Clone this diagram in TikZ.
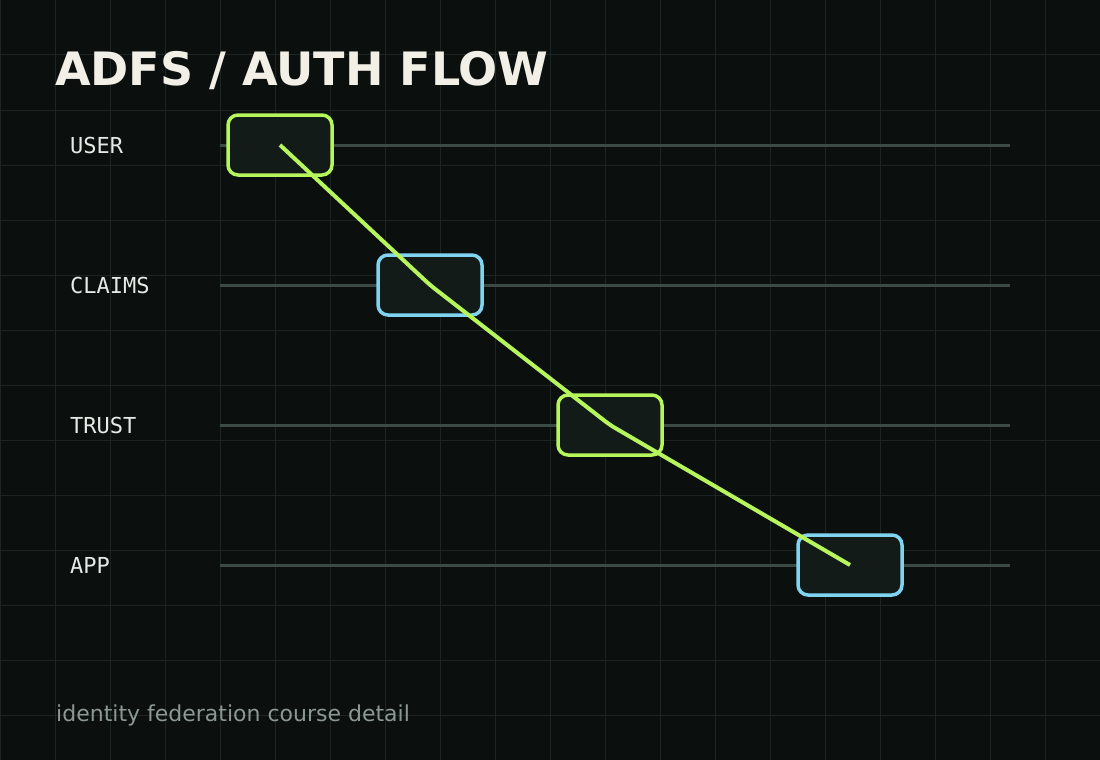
\documentclass[tikz,border=0pt]{standalone}
\usepackage{fontspec}
\setmainfont{DejaVu Sans}
\setmonofont{DejaVu Sans Mono}
\definecolor{bgdark}{HTML}{0B0F0E}
\definecolor{gridline}{HTML}{1C2523}
\definecolor{lanegrey}{HTML}{3B4A45}
\definecolor{boxfill}{HTML}{131B19}
\definecolor{flowgreen}{HTML}{B6F55C}
\definecolor{flowblue}{HTML}{80D4F2}
\definecolor{titlewhite}{HTML}{F2EFE6}
\definecolor{labelwhite}{HTML}{E6EAE6}
\definecolor{subgrey}{HTML}{8C9893}
\begin{document}
\begin{tikzpicture}[x=1pt,y=-1pt,
        lane/.style={line width=3pt, color=lanegrey},
        flowbox/.style={draw, line width=3.5pt, rounded corners=10pt, fill=boxfill,
            minimum width=104pt, minimum height=60pt, inner sep=0pt},
        lanelabel/.style={anchor=west, inner sep=0pt, text=labelwhite,
            font=\ttfamily\fontsize{22}{26}\selectfont}]
        % Background and grid
        \useasboundingbox (0,0) rectangle (1100,760);
        \fill [bgdark] (0,0) rectangle (1100,760);
        \foreach \gx in {0,55,...,1100}
            \draw [line width=1pt, gridline] (\gx,0) -- (\gx,760);
        \foreach \gy in {0,55,...,715}
            \draw [line width=1pt, gridline] (0,\gy) -- (1100,\gy);

        % Title
        \node (title) [anchor=base west, inner sep=0pt, text=titlewhite,
            font=\bfseries\fontsize{46}{54}\selectfont] at (55,85) {ADFS / AUTH FLOW};

        % Lanes with their labels
        \foreach \name/\txt/\ly in {user/USER/145, claims/CLAIMS/285, trust/TRUST/425, app/APP/565} {
            \node (lbl-\name) [lanelabel] at (70,\ly) {\txt};
            \coordinate (lanestart-\name) at (220,\ly);
            \coordinate (laneend-\name) at (1010,\ly);
            \draw [lane] (lanestart-\name) -- (laneend-\name);
        }

        % Steps of the flow
        \node (user) [flowbox, draw=flowgreen] at (280,145) {};
        \node (claims) [flowbox, draw=flowblue] at (430,285) {};
        \node (trust) [flowbox, draw=flowgreen] at (610,425) {};
        \node (app) [flowbox, draw=flowblue] at (850,565) {};

        % Drawing the path through the steps
        \draw [line width=4pt, flowgreen, rounded corners=6pt]
            (user.center) -- (claims.center) -- (trust.center) -- (app.center);

        % Caption
        \node (caption) [anchor=base west, inner sep=0pt, text=subgrey,
            font=\fontsize{22}{26}\selectfont] at (56,721) {identity federation course detail};
\end{tikzpicture}
\end{document}
